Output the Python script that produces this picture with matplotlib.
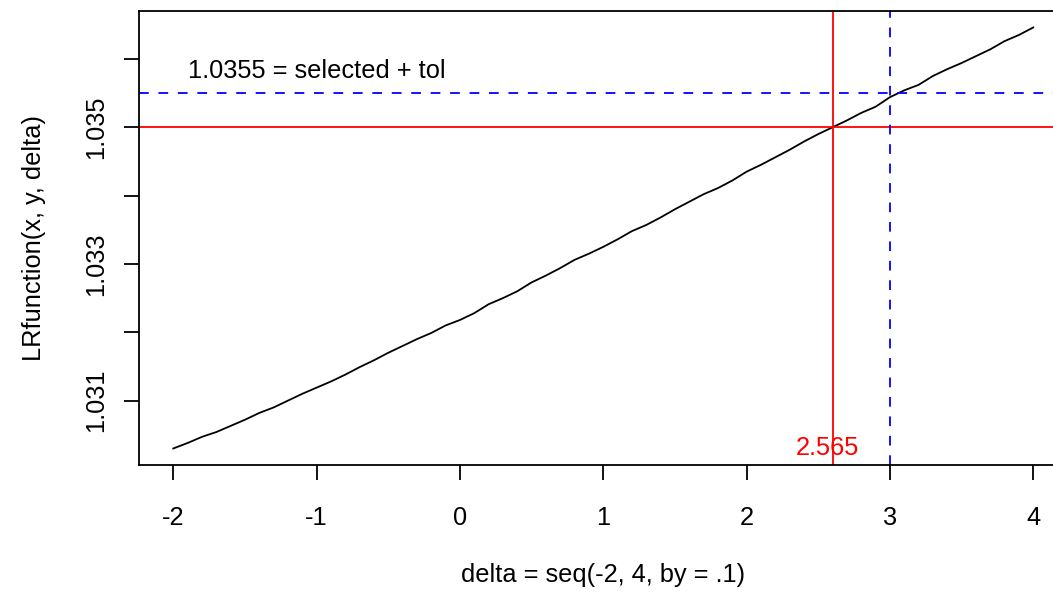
import numpy as np
import matplotlib.pyplot as plt

plt.rcParams['font.family'] = ['Liberation Sans', 'DejaVu Sans']
plt.rcParams['lines.scale_dashes'] = False

# delta = seq(-2, 4, by = .1)
delta = np.arange(-20, 41) / 10.0

# LRfunction(x, y, delta)
lr = [1.03030, 1.03038, 1.03047, 1.03054, 1.03063, 1.03072, 1.03082, 1.03090,
      1.03100, 1.03110, 1.03119, 1.03128, 1.03138, 1.03149, 1.03159, 1.03170,
      1.03180, 1.03190, 1.03199, 1.03210, 1.03218, 1.03228, 1.03241, 1.03250,
      1.03260, 1.03273, 1.03283, 1.03294, 1.03306, 1.03315, 1.03325, 1.03336,
      1.03348, 1.03357, 1.03368, 1.03380, 1.03391, 1.03402, 1.03411, 1.03422,
      1.03435, 1.03445, 1.03456, 1.03467, 1.03479, 1.03490, 1.03500, 1.03510,
      1.03521, 1.03530, 1.03544, 1.03554, 1.03562, 1.03575, 1.03585, 1.03594,
      1.03604, 1.03614, 1.03626, 1.03635, 1.03646]

selected = 1.035
tol_level = 1.0355
sel_delta = 2.6        # red vertical line
sel_label = 2.565      # value printed at the bottom
tol_delta = 3.0        # blue dashed vertical

x_ticks = [-2, -1, 0, 1, 2, 3, 4]
y_ticks = [1.031, 1.032, 1.033, 1.034, 1.035, 1.036]
y_ticklabels = ["1.031", "", "1.033", "", "1.035", ""]

fs = 18.3

fig = plt.figure(figsize=(10.53, 5.97), dpi=100)
ax = fig.add_axes([0.1319, 0.2206, 0.8820, 0.7616])

ax.plot(delta, lr, color="black", lw=1.3)
ax.axhline(selected, color="red", lw=1.3)
ax.axvline(sel_delta, color="red", lw=1.3)
ax.axhline(tol_level, color="blue", lw=1.3, linestyle=(0, (7, 7)))
ax.axvline(tol_delta, color="blue", lw=1.3, linestyle=(0, (7, 7)))

ax.text(-1.9, 1.03572, "1.0355 = selected + tol", fontsize=fs,
        ha="left", va="baseline")
ax.text(sel_label, 1.030205, "2.565", color="red", fontsize=fs,
        ha="center", va="baseline")

# R style 4% padding
xr = max(delta) - min(delta)
yr = max(lr) - min(lr)
ax.set_xlim(min(delta) - 0.04 * xr, max(delta) + 0.04 * xr)
ax.set_ylim(min(lr) - 0.04 * yr, max(lr) + 0.04 * yr)

ax.set_xticks(x_ticks)
ax.set_xticklabels([str(t) for t in x_ticks])
ax.set_yticks(y_ticks)
ax.set_yticklabels(y_ticklabels, rotation=90, va="center")
ax.tick_params(axis="x", length=10.8, width=1.3, pad=18.5, labelsize=fs)
ax.tick_params(axis="y", length=10.8, width=1.3, pad=11.2, labelsize=fs)
for s in ax.spines.values():
    s.set_linewidth(1.3)

ax.set_xlabel("delta = seq(-2, 4, by = .1)", fontsize=fs)
ax.set_ylabel("LRfunction(x, y, delta)", fontsize=fs)
ax.xaxis.set_label_coords(0.5, -0.2149)
ax.yaxis.set_label_coords(-0.0996, 0.5)

fig.patch.set_facecolor("white")
fig.savefig("out.png", dpi=100, facecolor="white")
